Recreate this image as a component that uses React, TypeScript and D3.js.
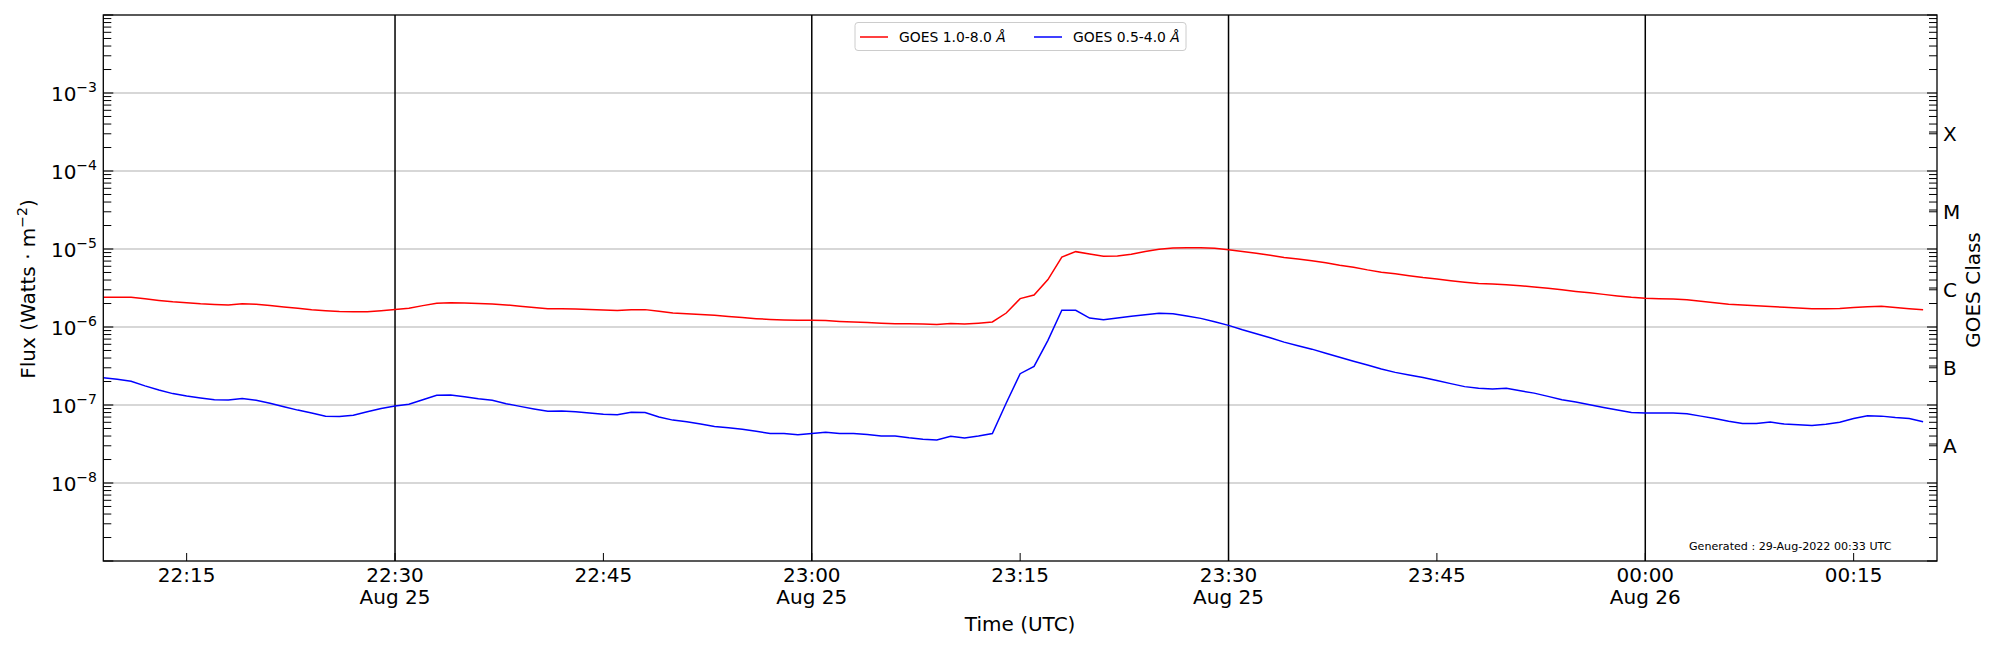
import React from "react";
import * as d3 from "d3";

// GOES 1.0-8.0 Å flux (W/m^2), 1-minute cadence from 22:09 UTC Aug 25, 2022
const redFlux: number[] = [
  2.40e-6, 2.40e-6, 2.40e-6, 2.30e-6, 2.19e-6, 2.10e-6, 2.05e-6, 1.99e-6, 1.95e-6, 1.92e-6,
  1.99e-6, 1.96e-6, 1.89e-6, 1.81e-6, 1.74e-6, 1.67e-6, 1.62e-6, 1.58e-6, 1.57e-6, 1.57e-6,
  1.62e-6, 1.68e-6, 1.74e-6, 1.88e-6, 2.01e-6, 2.05e-6, 2.03e-6, 2.00e-6, 1.97e-6, 1.92e-6,
  1.85e-6, 1.78e-6, 1.72e-6, 1.72e-6, 1.70e-6, 1.68e-6, 1.65e-6, 1.63e-6, 1.67e-6, 1.67e-6,
  1.59e-6, 1.51e-6, 1.48e-6, 1.45e-6, 1.41e-6, 1.36e-6, 1.32e-6, 1.28e-6, 1.25e-6, 1.23e-6,
  1.22e-6, 1.22e-6, 1.21e-6, 1.18e-6, 1.16e-6, 1.14e-6, 1.12e-6, 1.10e-6, 1.10e-6, 1.09e-6,
  1.08e-6, 1.11e-6, 1.09e-6, 1.12e-6, 1.16e-6, 1.51e-6, 2.31e-6, 2.57e-6, 4.05e-6, 7.89e-6,
  9.25e-6, 8.60e-6, 8.05e-6, 8.13e-6, 8.55e-6, 9.30e-6, 9.90e-6, 1.03e-5, 1.04e-5, 1.04e-5,
  1.02e-5, 9.80e-6, 9.30e-6, 8.80e-6, 8.30e-6, 7.80e-6, 7.45e-6, 7.09e-6, 6.65e-6, 6.20e-6,
  5.85e-6, 5.40e-6, 5.05e-6, 4.80e-6, 4.55e-6, 4.30e-6, 4.12e-6, 3.93e-6, 3.75e-6, 3.60e-6,
  3.55e-6, 3.49e-6, 3.38e-6, 3.26e-6, 3.14e-6, 3.00e-6, 2.86e-6, 2.74e-6, 2.62e-6, 2.50e-6,
  2.40e-6, 2.33e-6, 2.31e-6, 2.28e-6, 2.24e-6, 2.14e-6, 2.04e-6, 1.96e-6, 1.91e-6, 1.87e-6,
  1.83e-6, 1.79e-6, 1.75e-6, 1.72e-6, 1.72e-6, 1.73e-6, 1.78e-6, 1.82e-6, 1.84e-6, 1.78e-6,
  1.72e-6, 1.67e-6,
];

// GOES 0.5-4.0 Å flux (W/m^2)
const blueFlux: number[] = [
  2.24e-7, 2.14e-7, 2.02e-7, 1.76e-7, 1.56e-7, 1.40e-7, 1.30e-7, 1.23e-7, 1.17e-7, 1.16e-7,
  1.21e-7, 1.15e-7, 1.05e-7, 9.5e-8, 8.6e-8, 7.9e-8, 7.2e-8, 7.1e-8, 7.4e-8, 8.2e-8,
  9.0e-8, 9.7e-8, 1.02e-7, 1.17e-7, 1.33e-7, 1.34e-7, 1.28e-7, 1.20e-7, 1.15e-7, 1.04e-7,
  9.6e-8, 8.9e-8, 8.3e-8, 8.4e-8, 8.2e-8, 7.9e-8, 7.6e-8, 7.5e-8, 8.1e-8, 8.0e-8,
  7.0e-8, 6.4e-8, 6.1e-8, 5.7e-8, 5.3e-8, 5.1e-8, 4.9e-8, 4.6e-8, 4.3e-8, 4.3e-8,
  4.15e-8, 4.3e-8, 4.46e-8, 4.3e-8, 4.3e-8, 4.2e-8, 4.0e-8, 4.0e-8, 3.8e-8, 3.65e-8,
  3.55e-8, 3.97e-8, 3.77e-8, 4.0e-8, 4.3e-8, 1.06e-7, 2.52e-7, 3.13e-7, 6.74e-7, 1.64e-6,
  1.64e-6, 1.30e-6, 1.24e-6, 1.30e-6, 1.37e-6, 1.44e-6, 1.50e-6, 1.48e-6, 1.38e-6, 1.29e-6,
  1.17e-6, 1.05e-6, 9.2e-7, 8.2e-7, 7.3e-7, 6.4e-7, 5.75e-7, 5.2e-7, 4.6e-7, 4.1e-7,
  3.64e-7, 3.25e-7, 2.90e-7, 2.62e-7, 2.42e-7, 2.25e-7, 2.06e-7, 1.88e-7, 1.72e-7, 1.64e-7,
  1.60e-7, 1.64e-7, 1.52e-7, 1.42e-7, 1.29e-7, 1.17e-7, 1.09e-7, 1.01e-7, 9.3e-8, 8.6e-8,
  8.0e-8, 7.9e-8, 7.9e-8, 7.9e-8, 7.7e-8, 7.2e-8, 6.7e-8, 6.2e-8, 5.8e-8, 5.8e-8,
  6.05e-8, 5.7e-8, 5.6e-8, 5.48e-8, 5.65e-8, 6.0e-8, 6.7e-8, 7.3e-8, 7.2e-8, 6.9e-8,
  6.7e-8, 6.1e-8,
];

const startTime = Date.UTC(2022, 7, 25, 22, 9);
const timeDomain = [new Date(Date.UTC(2022, 7, 25, 22, 9)), new Date(Date.UTC(2022, 7, 26, 0, 21))];
const xTickTimes = [
  "2022-08-25T22:15:00Z", "2022-08-25T22:30:00Z", "2022-08-25T22:45:00Z", "2022-08-25T23:00:00Z",
  "2022-08-25T23:15:00Z", "2022-08-25T23:30:00Z", "2022-08-25T23:45:00Z", "2022-08-26T00:00:00Z",
  "2022-08-26T00:15:00Z",
];
const vLineTimes = ["2022-08-25T22:30:00Z", "2022-08-25T23:00:00Z", "2022-08-25T23:30:00Z", "2022-08-26T00:00:00Z"];
const yExponents = [-8, -7, -6, -5, -4, -3];
const gridExponents = [-8, -7, -6, -5, -4, -3];
const classLabels = ["A", "B", "C", "M", "X"];
const classCenters = [-7.5, -6.5, -5.5, -4.5, -3.5];
const legendLabels = ["GOES 1.0-8.0 ", "GOES 0.5-4.0 "];
const generatedText = "Generated : 29-Aug-2022 00:33 UTC";

const W = 2000;
const H = 650;
const L = 103.3, R = 1937, T = 15, B = 561;
const FONT = "'DejaVu Sans', sans-serif";

export default function App() {
  const x = d3.scaleUtc().domain(timeDomain).range([L, R]);
  const y = d3.scaleLog().domain([1e-9, 1e-2]).range([B, T]);
  const times = redFlux.map((_, i) => new Date(startTime + i * 60000));

  const line = d3
    .line<number>()
    .x((_, i) => x(times[i]))
    .y((d) => y(d));

  const minorTicks = y.ticks(70).filter((v) => {
    const e = Math.log10(v);
    return Math.abs(e - Math.round(e)) > 1e-6;
  });
  const majorTicks = d3.range(-9, -1).map((e) => Math.pow(10, e));
  const fmtTime = d3.utcFormat("%H:%M");
  const fmtDay = d3.utcFormat("%b %d");

  const legendColors = ["#ff0000", "#0000ff"];

  return (
    <svg
      width={W}
      height={H}
      style={{ position: "absolute", left: 0, top: 0, background: "#fff" }}
      fontFamily={FONT}
    >
      <rect x={0} y={0} width={W} height={H} fill="#fff" />
      {/* grid */}
      {gridExponents.map((e) => (
        <line key={e} x1={L} x2={R} y1={y(Math.pow(10, e))} y2={y(Math.pow(10, e))} stroke="#b0b0b0" strokeWidth={1.1} />
      ))}
      {/* vertical lines */}
      {vLineTimes.map((t) => (
        <line key={t} x1={x(new Date(t))} x2={x(new Date(t))} y1={T} y2={B} stroke="#000" strokeWidth={1.5} />
      ))}
      {/* data */}
      <path d={line(redFlux) || ""} fill="none" stroke="#ff0000" strokeWidth={1.5} />
      <path d={line(blueFlux) || ""} fill="none" stroke="#0000ff" strokeWidth={1.5} />

      {/* y ticks left and right */}
      {majorTicks.map((v, i) => (
        <g key={"maj" + i}>
          <line x1={L} x2={L + 10} y1={y(v)} y2={y(v)} stroke="#000" strokeWidth={1.1} />
          <line x1={R} x2={R - 10} y1={y(v)} y2={y(v)} stroke="#000" strokeWidth={1.1} />
        </g>
      ))}
      {minorTicks.map((v, i) => (
        <g key={"min" + i}>
          <line x1={L} x2={L + 8} y1={y(v)} y2={y(v)} stroke="#000" strokeWidth={1} />
          <line x1={R} x2={R - 8} y1={y(v)} y2={y(v)} stroke="#000" strokeWidth={1} />
        </g>
      ))}
      {classCenters.map((c, i) => (
        <line key={"cc" + i} x1={R} x2={R - 8} y1={y(Math.pow(10, c))} y2={y(Math.pow(10, c))} stroke="#000" strokeWidth={1} />
      ))}

      {/* y tick labels */}
      {yExponents.map((e) => (
        <text key={e} x={97} y={y(Math.pow(10, e)) + 8} textAnchor="end" fontSize={20} fill="#000">
          10
          <tspan dy={-9} fontSize={14}>{"\u2212" + Math.abs(e)}</tspan>
        </text>
      ))}

      {/* class labels */}
      {classLabels.map((lab, i) => (
        <text key={lab} x={1943} y={y(Math.pow(10, classCenters[i])) + 9} fontSize={20} fill="#000">
          {lab}
        </text>
      ))}

      {/* x ticks */}
      {xTickTimes.map((t) => {
        const d = new Date(t);
        const xp = x(d);
        const showDay = d.getUTCMinutes() % 30 === 0;
        return (
          <g key={t}>
            <line x1={xp} x2={xp} y1={B} y2={B - 8} stroke="#000" strokeWidth={1} />
            <text x={xp} y={582} textAnchor="middle" fontSize={20} fill="#000">
              {fmtTime(d)}
            </text>
            {showDay && (
              <text x={xp} y={604} textAnchor="middle" fontSize={20} fill="#000">
                {fmtDay(d)}
              </text>
            )}
          </g>
        );
      })}

      {/* frame */}
      <rect x={L} y={T} width={R - L} height={B - T} fill="none" stroke="#000" strokeWidth={1.3} />

      {/* axis labels */}
      <text x={(L + R) / 2} y={631} textAnchor="middle" fontSize={20} fill="#000">
        Time (UTC)
      </text>
      <text transform={`translate(35,289) rotate(-90)`} textAnchor="middle" fontSize={20} fill="#000">
        Flux (Watts · m<tspan dy={-8} fontSize={14}>{"\u22122"}</tspan>
        <tspan dy={8}>)</tspan>
      </text>
      <text transform={`translate(1980,290) rotate(-90)`} textAnchor="middle" fontSize={20} fill="#000">
        GOES Class
      </text>

      {/* legend */}
      <g>
        <rect x={855} y={22.5} width={331} height={28} rx={3} fill="#fff" fillOpacity={0.8} stroke="#cccccc" strokeWidth={1} />
        {legendLabels.map((lab, i) => {
          const x0 = i === 0 ? 860 : 1034;
          return (
            <g key={lab}>
              <line x1={x0} x2={x0 + 28} y1={37} y2={37} stroke={legendColors[i]} strokeWidth={1.5} />
              <text x={x0 + 39} y={42} fontSize={13.9} fill="#000">
                {lab}
                <tspan fontStyle="italic">Å</tspan>
              </text>
            </g>
          );
        })}
      </g>

      {/* generated text */}
      <text x={1689} y={550} fontSize={11.1} fill="#000">
        {generatedText}
      </text>
    </svg>
  );
}
